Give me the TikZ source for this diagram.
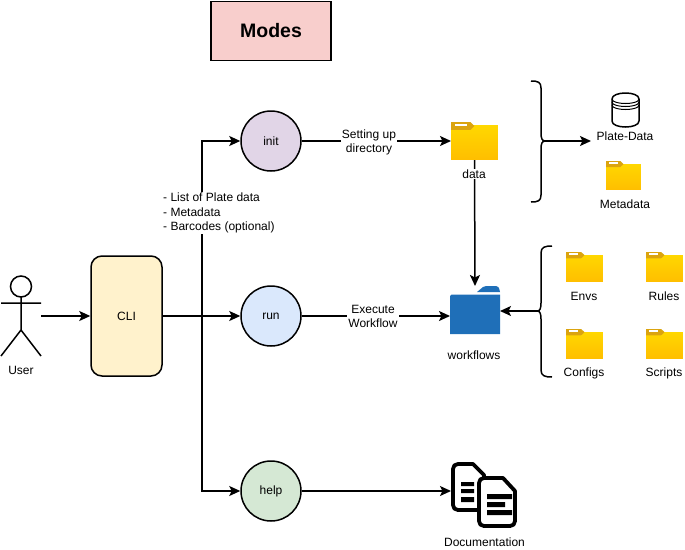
\documentclass[tikz,border=0pt]{standalone}
\usepackage{fontspec}
\setmainfont{Liberation Sans}
\usetikzlibrary{arrows.meta, positioning}

\definecolor{modefill}{HTML}{F8CECC}
\definecolor{clifill}{HTML}{FFF2CC}
\definecolor{initfill}{HTML}{E1D5E7}
\definecolor{runfill}{HTML}{DAE8FC}
\definecolor{helpfill}{HTML}{D5E8D4}
\definecolor{foldertop}{HTML}{FFD700}
\definecolor{folderbot}{HTML}{FFBE00}
\definecolor{foldertab}{HTML}{DBA40F}
\definecolor{wfblue}{HTML}{1F6FB8}

\tikzset{
    line/.style={black, line width=1.5pt},
    flow/.style={line, -{Stealth[length=11pt, width=10pt, inset=2.5pt]}},
    mode/.style={circle, draw=black, line width=1.5pt, minimum size=60pt, inner sep=0pt},
    txt/.style={font=\fontsize{12}{14.5}\selectfont, inner sep=1pt, align=center},
    onwhite/.style={txt, fill=white},
    holder/.style={inner sep=0pt, outer sep=0pt},
}

% name, left, top, width, height
\newcommand{\yellowfolder}[5]{
    \node[holder, minimum width=#4pt, minimum height=#5pt, anchor=north west] (#1) at (#2,#3) {};
    \begin{scope}[shift={(#2,#3)}, x=#4*0.01pt, y=-#5*0.01pt]
        \shade[top color=foldertop, bottom color=folderbot] (0,10.5) rectangle (100,100);
        \fill[foldertab] (0,0) -- (41,0) -- (50,10.5) -- (41,21) -- (0,21) -- cycle;
        \fill[white] (9,4) rectangle (33,10);
    \end{scope}
}

\begin{document}
\begin{tikzpicture}[x=1pt, y=-1pt]
\useasboundingbox (0,0) rectangle (685,549);

\node[draw=black, line width=1.2pt, fill=modefill, minimum width=120pt, minimum height=59pt, font=\fontsize{19.5}{22}\selectfont\bfseries] (modes) at (271,31) {Modes};

% user
\node[holder, minimum width=40pt, minimum height=80pt] (user) at (21,316) {};
\draw[line] (21,286.5) circle (10.5);
\draw[line] (21,297) -- (21,330) (1,303) -- (41,303) (1,356) -- (21,330) -- (41,356);
\node[txt] (userlabel) at (21,370.5) {User};

\node[draw=black, line width=1.5pt, fill=clifill, rounded corners=11pt, minimum width=71pt, minimum height=120pt, txt, inner sep=0pt] (cli) at (126.5,316) {CLI};

\node[mode, fill=initfill, txt, inner sep=0pt] (init) at (271,141) {init};
\node[mode, fill=runfill, txt, inner sep=0pt] (run) at (271,316) {run};
\node[mode, fill=helpfill, txt, inner sep=0pt] (help) at (271,491) {help};

\yellowfolder{data}{451}{122}{47}{38}
\yellowfolder{metadata}{606}{161}{35}{29}
\yellowfolder{envs}{566}{252}{37}{30}
\yellowfolder{rules}{646}{252}{37}{30}
\yellowfolder{configs}{566}{329}{37}{30}
\yellowfolder{scripts}{646}{329}{37}{30}

% blue folder
\node[holder, minimum width=50pt, minimum height=48pt] (workflows) at (475,310) {};
\fill[wfblue] (450,296) -- (451.5,294.5) -- (500,294.5) -- (500,334) -- (450,334) -- cycle;
\fill[wfblue] (477,292) -- (483,287) .. controls (484,286) and (485,286) .. (486,286) -- (496,286) .. controls (498,286) and (499,287) .. (500,292) -- cycle;

% plate data store
\node[holder, minimum width=27pt, minimum height=34pt] (platedata) at (625.5,110) {};
\draw[line, fill=white] (612,99) .. controls (612,91) and (639,91) .. (639,99) -- (639,121) .. controls (639,129) and (612,129) .. (612,121) -- cycle;
\draw[line, line width=1pt] (612,99) .. controls (612,105) and (639,105) .. (639,99);
\draw[line, line width=1pt] (612,102) .. controls (612,108) and (639,108) .. (639,102);
\draw[line, line width=1pt] (612,105) .. controls (612,111) and (639,111) .. (639,105);

% documents
\node[holder, minimum width=34pt, minimum height=50pt] (docs) at (468,491) {};
\draw[black, line width=3.8pt, fill=white, line join=round] (458,464) -- (473,464) -- (484,475) -- (484,510) -- (458,510) .. controls (455,510) and (453,508) .. (453,505) -- (453,469) .. controls (453,466) and (455,464) .. (458,464) -- cycle;
\fill[black] (461,482) rectangle (474,486) (461,489) rectangle (474,493) (461,497) rectangle (474,502);
\draw[black, line width=3.8pt, fill=white, line join=round] (484,478) -- (503,478) -- (515,491) -- (515,521) .. controls (515,524) and (513,526) .. (510,526) -- (484,526) .. controls (481,526) and (479,524) .. (479,521) -- (479,483) .. controls (479,480) and (481,478) .. (484,478) -- cycle;
\fill[black] (487,494) rectangle (512,499) (487,502) rectangle (505,507) (487,510) rectangle (512,515);

% braces
\coordinate (databrace) at (545,141);
\coordinate (platearrow) at (591,141);
\draw[line] (531,81) .. controls (538,81) and (541,82) .. (541,88) -- (541,133) .. controls (541,138) and (542,141) .. (databrace) .. controls (542,141) and (541,144) .. (541,149) -- (541,195) .. controls (541,201) and (538,202) .. (531,202);
\coordinate (wfbrace) at (537.5,311);
\draw[line] (552,246) .. controls (545,246) and (541,247) .. (541,253) -- (541,303) .. controls (541,308) and (540,311) .. (wfbrace) .. controls (540,311) and (541,314) .. (541,319) -- (541,370) .. controls (541,376) and (545,377) .. (552,377);

% connectors
\draw[flow] (user.east) -- (cli.west);
\coordinate (branch) at (202,316);
\draw[black, line width=2.4pt] (cli.east) -- (branch);
\draw[flow] (branch) |- (init.west);
\draw[flow] (branch) -- (run.west);
\draw[flow] (branch) |- (help.west);
\draw[flow] (init.east) -- (data.west);
\draw[flow] (run.east) -- (run -| workflows.west);
\draw[flow] (help.east) -- (docs.west);
\draw[flow] (data.south) -- (workflows.north);
\draw[flow] (wfbrace) -- (wfbrace -| workflows.east);
\draw[flow] (databrace) -- (platearrow);

% labels
\node[onwhite] (setup) at (369,142.5) {Setting up\\directory};
\node[onwhite] (execute) at (373,316.5) {Execute\\Workflow};
\node[onwhite, align=left, anchor=west] (inputs) at (162,213) {- List of Plate data\\- Metadata\\- Barcodes (optional)};
\node[onwhite] (datalabel) at (474,174) {data};
\node[txt] (workflowslabel) at (474,355) {workflows};
\node[txt] (platelabel) at (625,136) {Plate-Data};
\node[txt] (metalabel) at (625,204) {Metadata};
\node[txt] (envslabel) at (584,296) {Envs};
\node[txt] (ruleslabel) at (664,296) {Rules};
\node[txt] (configslabel) at (584,373) {Configs};
\node[txt] (scriptslabel) at (664,373) {Scripts};
\node[txt] (docslabel) at (484.5,542) {Documentation};

\end{tikzpicture}
\end{document}
